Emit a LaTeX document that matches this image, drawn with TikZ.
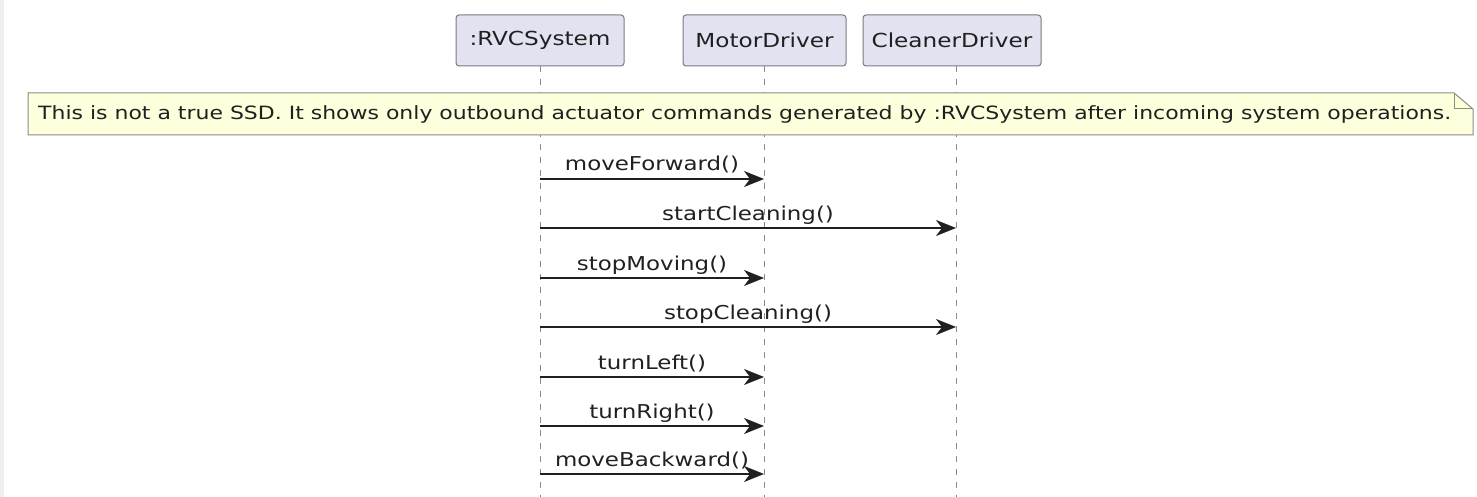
\documentclass[tikz,border=0pt]{standalone}
\usepackage{fontspec}
\usetikzlibrary{arrows.meta}
\newfontfamily\umlfont{DejaVu Sans}[FakeStretch=1.2]
\definecolor{partfill}{HTML}{E2E2F0}
\definecolor{partline}{HTML}{7A7A84}
\definecolor{notefill}{HTML}{FEFFDD}
\definecolor{noteline}{HTML}{8C8C80}
\definecolor{ink}{HTML}{202020}
\definecolor{lifeline}{HTML}{8A8A8A}
\definecolor{edgestrip}{HTML}{EFEFEF}

\begin{document}
\begin{tikzpicture}[x=1pt,y=-1pt,
  participant/.style={draw=partline, line width=1pt, fill=partfill, rounded corners=3pt,
    minimum height=51pt, inner sep=0pt, text=ink, font=\umlfont\fontsize{19.3}{22}\selectfont},
  lifelinestyle/.style={draw=lifeline, line width=1pt, dash pattern=on 6pt off 7pt},
  msg/.style={draw=ink, line width=1.5pt, -{Stealth[length=20pt,width=16pt,inset=6pt]}},
  msglabel/.style={anchor=base, yshift=8pt, text=ink, inner sep=0pt,
    font=\umlfont\fontsize{19.1}{22}\selectfont},
  notetext/.style={anchor=west, text=ink, inner sep=0pt,
    font=\umlfont\fontsize{18.3}{21}\selectfont}]

\useasboundingbox (0,0) rectangle (1477,497);
\fill[white] (0,0) rectangle (1477,497);
\fill[edgestrip] (0,0) rectangle (4,497);

% participants
\node[participant, minimum width=168pt] (rvc) at (540,40.5) {:RVCSystem};
\node[participant, minimum width=163pt] (mot) at (764.5,40.5) {MotorDriver};
\node[participant, minimum width=178pt] (cln) at (952,40.5) {CleanerDriver};

% lifeline ends
\coordinate (rvcEnd) at (540,497);
\coordinate (motEnd) at (764,497);
\coordinate (clnEnd) at (956,497);
\coordinate (rvcTop) at (540,66);
\coordinate (motTop) at (764,66);
\coordinate (clnTop) at (956,66);

\draw[lifelinestyle] (rvcTop) -- (rvcEnd);
\draw[lifelinestyle] (motTop) -- (motEnd);
\draw[lifelinestyle] (clnTop) -- (clnEnd);

% note spanning the lifelines
\filldraw[fill=notefill, draw=noteline, line width=1pt]
  (28,93) -- (1454,93) -- (1473,109) -- (1473,135) -- (28,135) -- cycle;
\draw[draw=noteline, line width=1pt] (1454,93) -- (1454,109) -- (1473,109);
\node[notetext] (note) at (38,114) {This is not a true SSD. It shows only outbound actuator commands generated by :RVCSystem after incoming system operations.};

% outbound messages
\draw[msg] (rvcTop |- 0,179) -- (motTop |- 0,179) node[msglabel, midway] (m1) {moveForward()};
\draw[msg] (rvcTop |- 0,228) -- (clnTop |- 0,228) node[msglabel, midway] (m2) {startCleaning()};
\draw[msg] (rvcTop |- 0,278) -- (motTop |- 0,278) node[msglabel, midway] (m3) {stopMoving()};
\draw[msg] (rvcTop |- 0,327) -- (clnTop |- 0,327) node[msglabel, midway] (m4) {stopCleaning()};
\draw[msg] (rvcTop |- 0,377) -- (motTop |- 0,377) node[msglabel, midway] (m5) {turnLeft()};
\draw[msg] (rvcTop |- 0,426) -- (motTop |- 0,426) node[msglabel, midway] (m6) {turnRight()};
\draw[msg] (rvcTop |- 0,474) -- (motTop |- 0,474) node[msglabel, midway] (m7) {moveBackward()};
\end{tikzpicture}
\end{document}
